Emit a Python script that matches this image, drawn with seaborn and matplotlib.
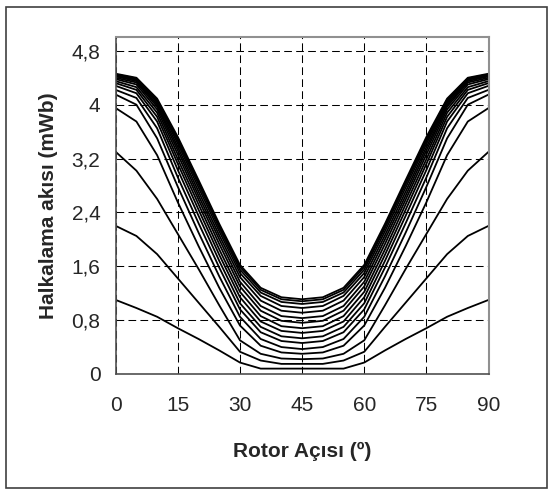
import numpy as np
import pandas as pd
import seaborn as sns
import matplotlib.pyplot as plt
from matplotlib.patches import Rectangle
from matplotlib.ticker import FuncFormatter

# Rotor angle (degrees), 5 degree steps
angles = [0, 5, 10, 15, 20, 25, 30, 35, 40, 45, 50, 55, 60, 65, 70, 75, 80, 85, 90]

# Flux linkage curves (mWb), one per excitation level
c01 = [1.10, 0.98, 0.85, 0.68, 0.52, 0.35, 0.17, 0.08, 0.08, 0.08, 0.08, 0.08, 0.17, 0.35, 0.52, 0.68, 0.85, 0.98, 1.10]
c02 = [2.20, 2.05, 1.78, 1.42, 1.06, 0.70, 0.33, 0.20, 0.15, 0.15, 0.15, 0.20, 0.33, 0.70, 1.06, 1.42, 1.78, 2.05, 2.20]
c03 = [3.30, 3.02, 2.60, 2.08, 1.56, 1.02, 0.50, 0.30, 0.23, 0.22, 0.23, 0.30, 0.50, 1.02, 1.56, 2.08, 2.60, 3.02, 3.30]
c04 = [3.95, 3.75, 3.25, 2.55, 1.90, 1.28, 0.72, 0.42, 0.32, 0.30, 0.32, 0.42, 0.72, 1.28, 1.90, 2.55, 3.25, 3.75, 3.95]
c05 = [4.15, 4.00, 3.50, 2.78, 2.10, 1.45, 0.85, 0.52, 0.40, 0.37, 0.40, 0.52, 0.85, 1.45, 2.10, 2.78, 3.50, 4.00, 4.15]
c06 = [4.22, 4.10, 3.65, 2.92, 2.24, 1.58, 0.96, 0.62, 0.49, 0.46, 0.49, 0.62, 0.96, 1.58, 2.24, 2.92, 3.65, 4.10, 4.22]
c07 = [4.28, 4.17, 3.75, 3.03, 2.35, 1.68, 1.05, 0.70, 0.56, 0.53, 0.56, 0.70, 1.05, 1.68, 2.35, 3.03, 3.75, 4.17, 4.28]
c08 = [4.32, 4.22, 3.82, 3.12, 2.44, 1.77, 1.14, 0.78, 0.64, 0.61, 0.64, 0.78, 1.14, 1.77, 2.44, 3.12, 3.82, 4.22, 4.32]
c09 = [4.35, 4.26, 3.88, 3.19, 2.52, 1.85, 1.22, 0.86, 0.71, 0.68, 0.71, 0.86, 1.22, 1.85, 2.52, 3.19, 3.88, 4.26, 4.35]
c10 = [4.38, 4.30, 3.93, 3.26, 2.59, 1.93, 1.30, 0.94, 0.79, 0.76, 0.79, 0.94, 1.30, 1.93, 2.59, 3.26, 3.93, 4.30, 4.38]
c11 = [4.40, 4.33, 3.97, 3.32, 2.65, 2.00, 1.37, 1.01, 0.86, 0.83, 0.86, 1.01, 1.37, 2.00, 2.65, 3.32, 3.97, 4.33, 4.40]
c12 = [4.42, 4.35, 4.00, 3.37, 2.71, 2.06, 1.44, 1.09, 0.94, 0.91, 0.94, 1.09, 1.44, 2.06, 2.71, 3.37, 4.00, 4.35, 4.42]
c13 = [4.43, 4.37, 4.03, 3.42, 2.77, 2.12, 1.50, 1.16, 1.01, 0.98, 1.01, 1.16, 1.50, 2.12, 2.77, 3.42, 4.03, 4.37, 4.43]
c14 = [4.44, 4.38, 4.05, 3.46, 2.82, 2.17, 1.55, 1.21, 1.07, 1.04, 1.07, 1.21, 1.55, 2.17, 2.82, 3.46, 4.05, 4.38, 4.44]
c15 = [4.45, 4.39, 4.07, 3.49, 2.85, 2.20, 1.59, 1.25, 1.11, 1.08, 1.11, 1.25, 1.59, 2.20, 2.85, 3.49, 4.07, 4.39, 4.45]
c16 = [4.46, 4.40, 4.09, 3.52, 2.88, 2.23, 1.62, 1.28, 1.14, 1.11, 1.14, 1.28, 1.62, 2.23, 2.88, 3.52, 4.09, 4.40, 4.46]

curves = [c01, c02, c03, c04, c05, c06, c07, c08, c09, c10, c11, c12, c13, c14, c15, c16]

x_ticks = [0, 15, 30, 45, 60, 75, 90]
y_ticks = [0, 0.8, 1.6, 2.4, 3.2, 4.0, 4.8]

# long format for seaborn
df = pd.DataFrame({
    "angle": np.tile(angles, len(curves)),
    "flux": np.concatenate(curves),
    "curve": np.repeat(np.arange(len(curves)), len(angles)),
})

sns.set_theme(style="white")
plt.rcParams["font.family"] = ["Liberation Sans", "DejaVu Sans"]

fig = plt.figure(figsize=(5.52, 4.91), dpi=100)
ax = fig.add_axes([0.2096, 0.2383, 0.6754, 0.6870])

sns.lineplot(data=df, x="angle", y="flux", units="curve", estimator=None,
             color="black", linewidth=1.3, ax=ax)

ax.set_xlim(0, 90)
ax.set_ylim(0, 5.01)
ax.set_xticks(x_ticks)
ax.set_yticks(y_ticks)
ax.yaxis.set_major_formatter(FuncFormatter(lambda v, p: f"{v:g}".replace(".", ",")))

ax.grid(True, color="black", linestyle=(0, (7.4, 4.1)), linewidth=0.75)
ax.set_axisbelow(True)
ax.tick_params(axis="both", direction="out", length=5, width=0.8, color="black",
               labelsize=15)
ax.tick_params(axis="x", pad=11)
ax.tick_params(axis="y", pad=6)

for side in ["top", "right"]:
    ax.spines[side].set_color("#909090")
    ax.spines[side].set_linewidth(1.5)
for side in ["left", "bottom"]:
    ax.spines[side].set_color("#505050")
    ax.spines[side].set_linewidth(1.2)

ax.set_xlabel("Rotor Açısı (º)", fontsize=15, fontweight="bold", labelpad=19)
ax.set_ylabel("Halkalama akısı (mWb)", fontsize=15, fontweight="bold", labelpad=10)

# outer frame round the whole chart
fig.patches.append(Rectangle((6 / 552, 3 / 491), 541 / 552, 481 / 491, transform=fig.transFigure,
                             fill=False, edgecolor="#404040", linewidth=1.2))

fig.savefig("out.png", dpi=100)
